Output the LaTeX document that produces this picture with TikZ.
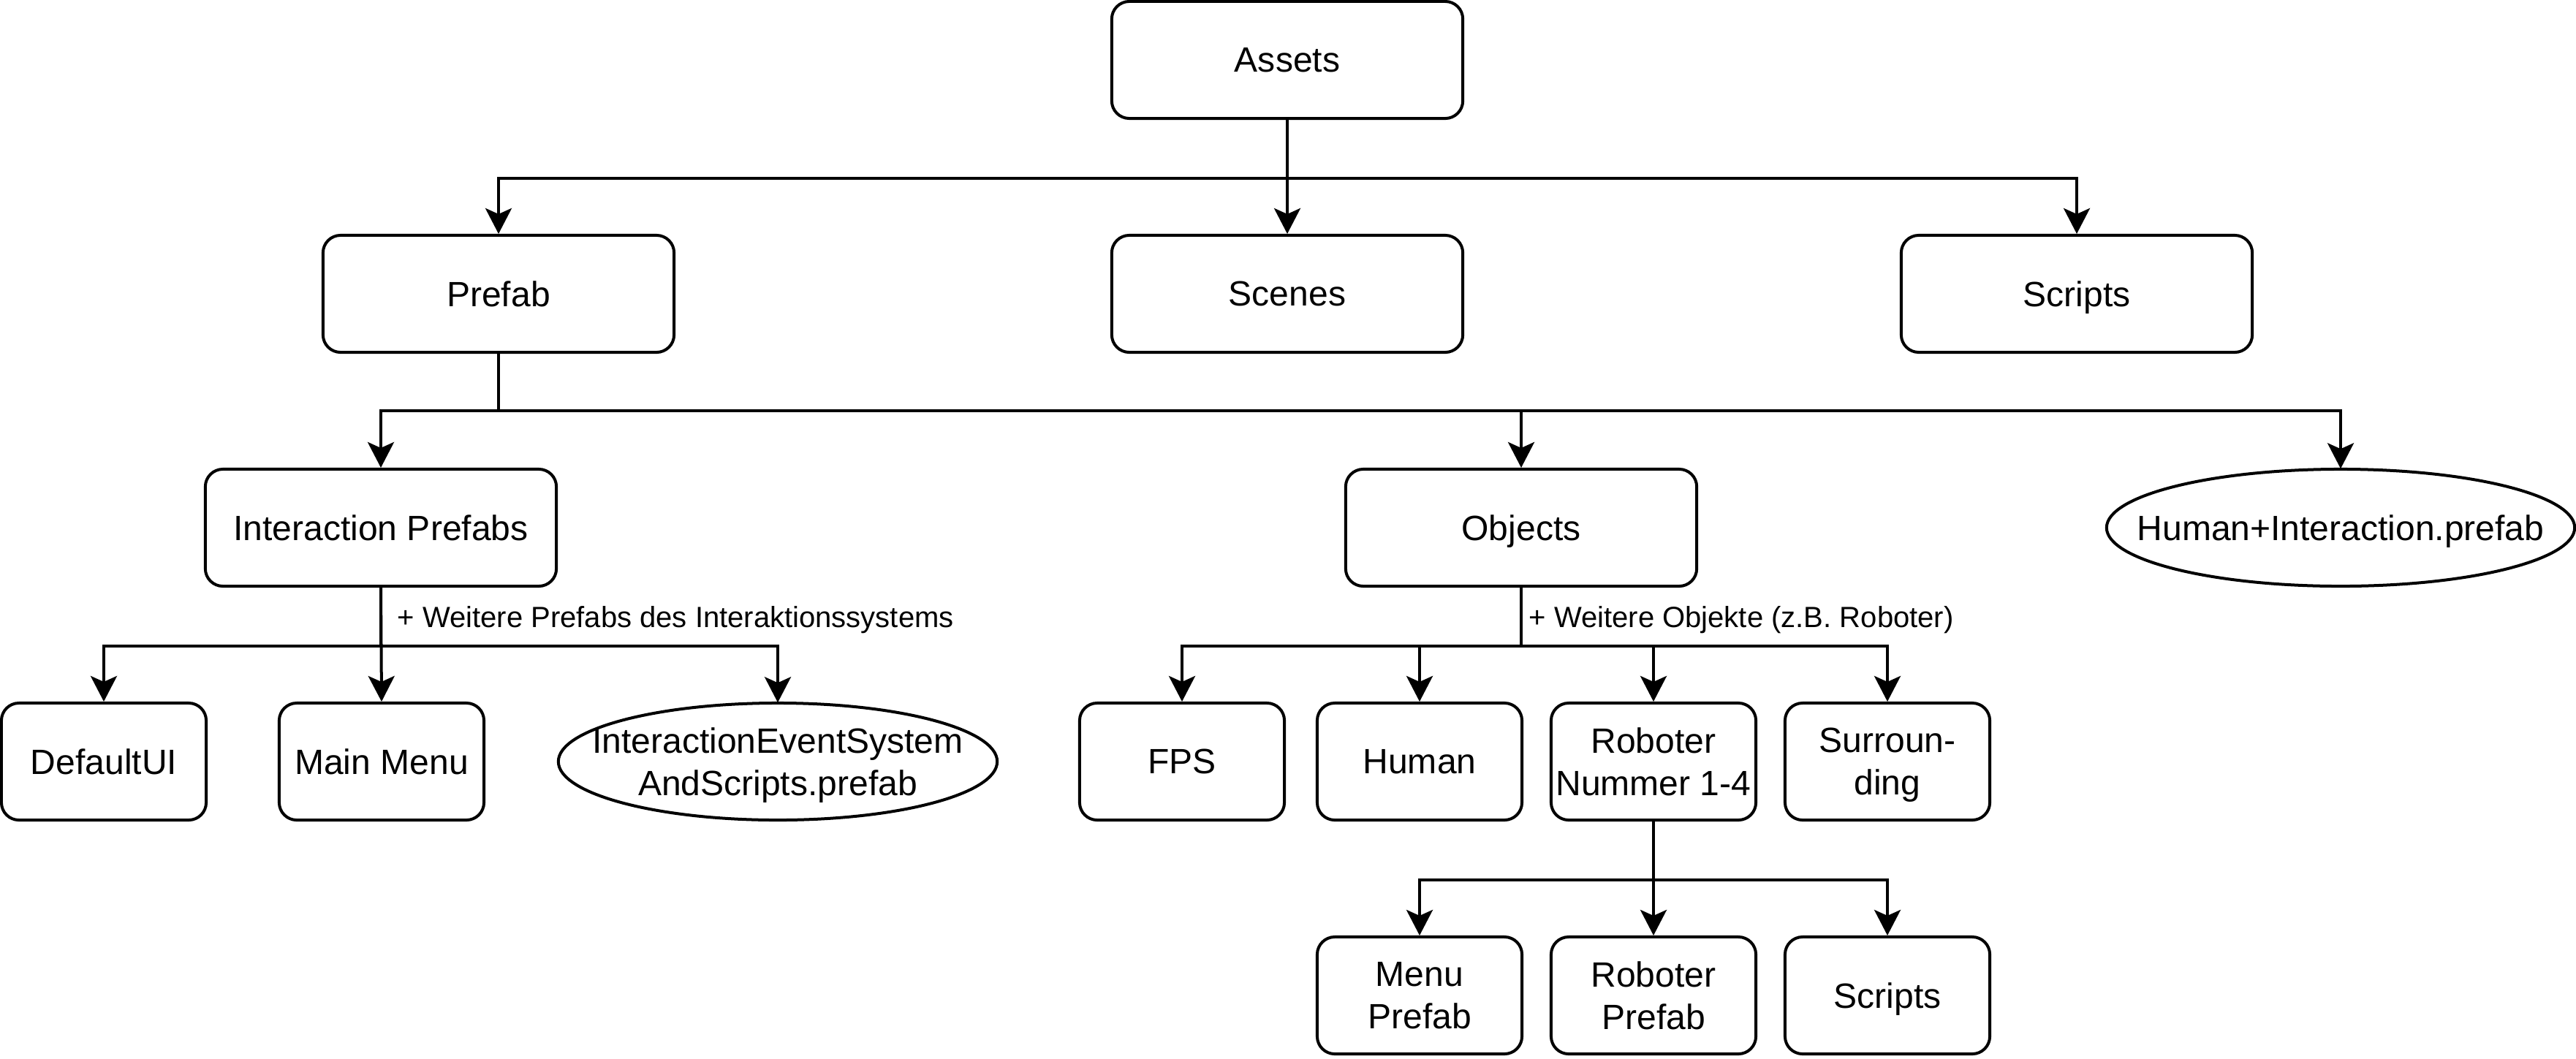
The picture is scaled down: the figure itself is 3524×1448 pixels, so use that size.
\documentclass[tikz,border=0pt]{standalone}
\usepackage{fontspec}
\setmainfont{Liberation Sans}
\usetikzlibrary{arrows.meta}
\begin{document}
\begin{tikzpicture}[x=0.01cm,y=-0.01cm,
  lw/.style={line width=0.04cm},
  nodefont/.style={font=\fontsize{13.66pt}{16.4pt}\selectfont,text depth=0pt},
  box/.style={draw,lw,rounded corners=0.24cm,minimum width=4.8cm,minimum height=1.6cm,inner sep=0pt,align=center,nodefont},
  sbox/.style={box,minimum width=2.8cm},
  ellholder/.style={inner sep=0pt,align=center,nodefont,minimum height=1.6cm},
  arr/.style={lw,-{Stealth[length=0.35cm,width=0.36cm,inset=0.08cm]}},
  lbl/.style={inner sep=0pt,font=\fontsize{11.38pt}{13.7pt}\selectfont}]
\useasboundingbox (0,0) rectangle (3524,1448);

% level 1-2
\node[box] (assets) at (1761,82) {Assets};
\node[box] (prefab) at (682,402) {Prefab};
\node[box] (scenes) at (1761,402) {Scenes};
\node[box] (scripts) at (2841,402) {Scripts};

% level 3
\node[box] (iprefabs) at (521,722) {Interaction Prefabs};
\node[box] (objects) at (2081,722) {Objects};
\node[ellholder,minimum width=6.4cm] (hip) at (3202,722) {Human+Interaction.prefab};
\draw[lw] (hip.center) ellipse [x radius=3.2cm, y radius=0.8cm];

% level 4
\node[sbox] (defaultui) at (142,1042) {DefaultUI};
\node[sbox] (mainmenu) at (522,1042) {Main Menu};
\node[ellholder,minimum width=6cm] (iess) at (1064,1042) {InteractionEventSystem\\AndScripts.prefab};
\draw[lw] (iess.center) ellipse [x radius=3cm, y radius=0.8cm];
\node[sbox] (fps) at (1617,1042) {FPS};
\node[sbox] (human) at (1942,1042) {Human};
\node[sbox] (roboter) at (2262,1042) {Roboter\\Nummer 1-4};
\node[sbox] (surr) at (2582,1042) {Surroun-\\ding};

% level 5
\node[sbox] (menuprefab) at (1942,1362) {Menu\\Prefab};
\node[sbox] (roboterprefab) at (2262,1362) {Roboter\\Prefab};
\node[sbox] (rscripts) at (2582,1362) {Scripts};

% connectors
\draw[arr] (assets.south) -- ++(0,80) -| (prefab.north);
\draw[arr] (assets.south) -- (scenes.north);
\draw[arr] (assets.south) -- ++(0,80) -| (scripts.north);

\draw[arr] (prefab.south) -- ++(0,78) -| (iprefabs.north);
\draw[arr] (prefab.south) -- ++(0,78) -| (objects.north);
\draw[arr] (prefab.south) -- ++(0,78) -| (hip.north);

\draw[arr] (iprefabs.south) -- ++(0,80) -| (defaultui.north);
\draw[arr] (iprefabs.south) -- (mainmenu.north);
\draw[arr] (iprefabs.south) -- ++(0,80) -| (iess.north);

\draw[arr] (objects.south) -- ++(0,80) -| (fps.north);
\draw[arr] (objects.south) -- ++(0,80) -| (human.north);
\draw[arr] (objects.south) -- ++(0,80) -| (roboter.north);
\draw[arr] (objects.south) -- ++(0,80) -| (surr.north);

\draw[arr] (roboter.south) -- ++(0,80) -| (menuprefab.north);
\draw[arr] (roboter.south) -- (roboterprefab.north);
\draw[arr] (roboter.south) -- ++(0,80) -| (rscripts.north);

% labels
\node[lbl,anchor=base west] (lab1) at (543,858) {+ Weitere Prefabs des Interaktionssystems};
\node[lbl,anchor=base west] (lab2) at (2091,858) {+ Weitere Objekte (z.B. Roboter)};
\end{tikzpicture}
\end{document}
